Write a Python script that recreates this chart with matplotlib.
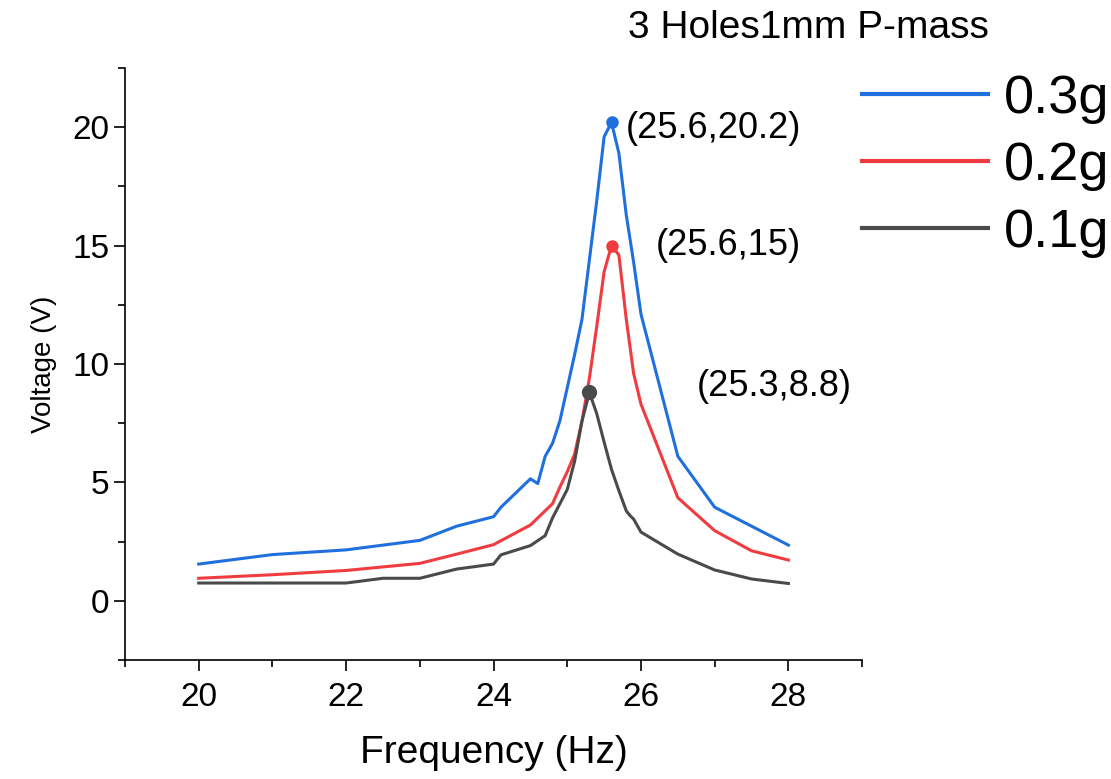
import numpy as np
import matplotlib
matplotlib.use("Agg")
import matplotlib.pyplot as plt
from matplotlib.ticker import MultipleLocator

plt.rcParams['font.family'] = ['Liberation Sans', 'DejaVu Sans']

# 0.3g proof mass
freq_03 = [20, 21, 22, 23, 23.5, 24, 24.1, 24.3, 24.5, 24.6, 24.7, 24.8, 24.9,
           25.0, 25.1, 25.2, 25.3, 25.4, 25.5, 25.6, 25.7, 25.8, 25.9, 26.0,
           26.5, 27.0, 27.5, 28.0]
volt_03 = [1.55, 1.95, 2.15, 2.55, 3.15, 3.55, 3.95, 4.55, 5.15, 4.95, 6.1, 6.65, 7.6,
           9.0, 10.4, 11.9, 14.4, 16.9, 19.6, 20.2, 18.9, 16.3, 14.3, 12.1,
           6.1, 3.95, 3.15, 2.35]

# 0.2g proof mass
freq_02 = [20, 21, 22, 23, 23.5, 24, 24.5, 24.8, 24.9, 25.0, 25.1, 25.2, 25.3,
           25.4, 25.5, 25.6, 25.7, 25.8, 25.9, 26.0, 26.5, 27.0, 27.5, 28.0]
volt_02 = [0.95, 1.1, 1.28, 1.58, 1.97, 2.37, 3.2, 4.1, 4.8, 5.45, 6.2, 7.6, 9.4,
           11.6, 13.9, 15.0, 14.6, 11.9, 9.6, 8.3, 4.35, 2.96, 2.11, 1.72]

# 0.1g proof mass
freq_01 = [20, 21, 22, 22.5, 23, 23.5, 24, 24.1, 24.5, 24.7, 24.8, 24.9, 25.0,
           25.1, 25.2, 25.3, 25.4, 25.5, 25.6, 25.7, 25.8, 25.85, 25.9, 26.0,
           26.5, 27.0, 27.5, 28.0]
volt_01 = [0.75, 0.75, 0.75, 0.95, 0.95, 1.34, 1.55, 1.94, 2.33, 2.75, 3.5, 4.1, 4.7,
           5.9, 7.6, 8.8, 7.9, 6.7, 5.55, 4.65, 3.8, 3.6, 3.45, 2.9,
           1.97, 1.3, 0.92, 0.73]

peaks = [(25.6, 20.2), (25.6, 15.0), (25.3, 8.8)]
peak_labels = ['(25.6,20.2)', '(25.6,15)', '(25.3,8.8)']

blue = '#1f6fdf'
red = '#f03c40'
gray = '#4a4a4a'
colors = [blue, red, gray]

fig = plt.figure(figsize=(11.11, 7.79), dpi=100)
ax = fig.add_axes([0.1125, 0.1528, 0.6635, 0.7599])

ax.plot(freq_03, volt_03, color=blue, lw=2.2, label='0.3g')
ax.plot(freq_02, volt_02, color=red, lw=2.2, label='0.2g')
ax.plot(freq_01, volt_01, color=gray, lw=2.2, label='0.1g')

for (px, py), c in zip(peaks, colors):
    ax.plot(px, py, 'o', color=c, ms=8 if c != gray else 10)

# peak labels, offset to the right of each peak
ax.text(25.8, 19.95, peak_labels[0], fontsize=26, va='center', ha='left')
ax.text(26.2, 15.0, peak_labels[1], fontsize=26, va='center', ha='left')
ax.text(26.75, 9.05, peak_labels[2], fontsize=26, va='center', ha='left')

ax.set_xlim(19, 29)
ax.set_ylim(-2.5, 22.5)
ax.xaxis.set_major_locator(MultipleLocator(2))
ax.xaxis.set_minor_locator(MultipleLocator(1))
ax.yaxis.set_major_locator(MultipleLocator(5))
ax.yaxis.set_minor_locator(MultipleLocator(2.5))
ax.tick_params(which='major', length=8, width=1.2, labelsize=24)
ax.tick_params(axis='y', which='major', pad=3)
ax.tick_params(axis='x', which='major', pad=8)
ax.tick_params(which='minor', length=5, width=1.2)
for s in ['top', 'right']:
    ax.spines[s].set_visible(False)
for s in ['left', 'bottom']:
    ax.spines[s].set_linewidth(1.2)

ax.set_xlabel('Frequency (Hz)', fontsize=28, labelpad=16)
ax.set_ylabel('Voltage (V)', fontsize=20, labelpad=11)

fig.text(628 / 1111, 1 - 28 / 779, '3 Holes1mm P-mass', fontsize=28,
         ha='left', va='center')

leg = fig.legend(loc='upper left', bbox_to_anchor=(0.776, 0.9055), frameon=False,
                 fontsize=39, handlelength=2.33, handletextpad=0.28, labelspacing=0.32,
                 borderaxespad=0, borderpad=0)
for h in leg.legend_handles:
    h.set_linewidth(3)

fig.savefig('out.png', dpi=100)
